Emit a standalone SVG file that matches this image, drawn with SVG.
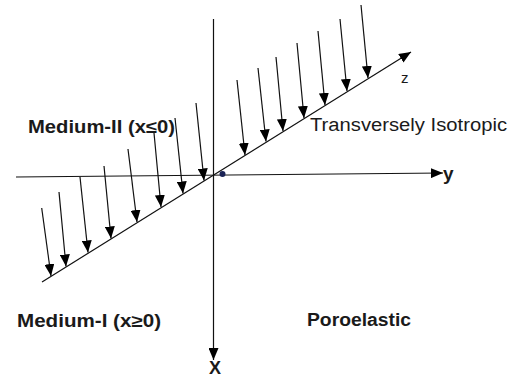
<svg xmlns="http://www.w3.org/2000/svg" width="508" height="378" viewBox="0 0 508 378">
<style>
.ln{stroke:#000;stroke-width:1.3;fill:none}
.ar{stroke:#111;stroke-width:1.2;fill:none;marker-end:url(#ah)}
.lb{font-family:"Liberation Sans",Arial,sans-serif;fill:#1a1a1a}
.b{font-weight:bold}
</style>
<defs>
<marker id="ah" markerUnits="userSpaceOnUse" markerWidth="12" markerHeight="10" refX="12" refY="5" orient="auto">
<path d="M0,0 L12,5 L0,10 z" fill="#000"/>
</marker>
</defs>
<rect width="508" height="378" fill="#fff"/>
<g id="axes">
<line class="ar" x1="213.5" y1="19" x2="213.5" y2="360"/>
<line class="ar" x1="16" y1="177" x2="443" y2="173"/>
<line class="ar" x1="42" y1="282" x2="411" y2="52"/>
<circle cx="222.5" cy="174" r="3" fill="#1a2255"/>
</g>
<g id="load-arrows">
<line class="ar" x1="237" y1="80" x2="245" y2="155"/>
<line class="ar" x1="258" y1="68" x2="266" y2="141.5"/>
<line class="ar" x1="276" y1="57" x2="283" y2="131"/>
<line class="ar" x1="297" y1="43" x2="304" y2="118"/>
<line class="ar" x1="318" y1="31" x2="325" y2="105"/>
<line class="ar" x1="340" y1="19" x2="347" y2="91"/>
<line class="ar" x1="361" y1="5" x2="368" y2="78"/>
<line class="ar" x1="41.7" y1="208" x2="51" y2="276"/>
<line class="ar" x1="59" y1="192" x2="66" y2="266.5"/>
<line class="ar" x1="80" y1="177" x2="88" y2="252.5"/>
<line class="ar" x1="104" y1="166" x2="111" y2="238.5"/>
<line class="ar" x1="128" y1="149" x2="137" y2="222"/>
<line class="ar" x1="154" y1="133" x2="161" y2="207"/>
<line class="ar" x1="175" y1="118" x2="183" y2="193.5"/>
<line class="ar" x1="196" y1="103" x2="204" y2="180.5"/>
</g>
<g id="labels">
<text class="lb b" x="28" y="132.5" font-size="17.5" textLength="147" lengthAdjust="spacingAndGlyphs">Medium-II (x≤0)</text>
<text class="lb" x="310" y="131" font-size="18" textLength="197" lengthAdjust="spacingAndGlyphs" fill="#2a2a2a">Transversely Isotropic</text>
<text class="lb" x="401" y="83" font-size="15">z</text>
<text class="lb b" x="443" y="180" font-size="19">y</text>
<text class="lb b" x="17" y="326.5" font-size="17.5" textLength="144" lengthAdjust="spacingAndGlyphs">Medium-I (x≥0)</text>
<text class="lb b" x="307" y="325.5" font-size="17.5" textLength="104" lengthAdjust="spacingAndGlyphs">Poroelastic</text>
<text class="lb b" x="215" y="373.5" font-size="18" text-anchor="middle">X</text>
</g>
</svg>
